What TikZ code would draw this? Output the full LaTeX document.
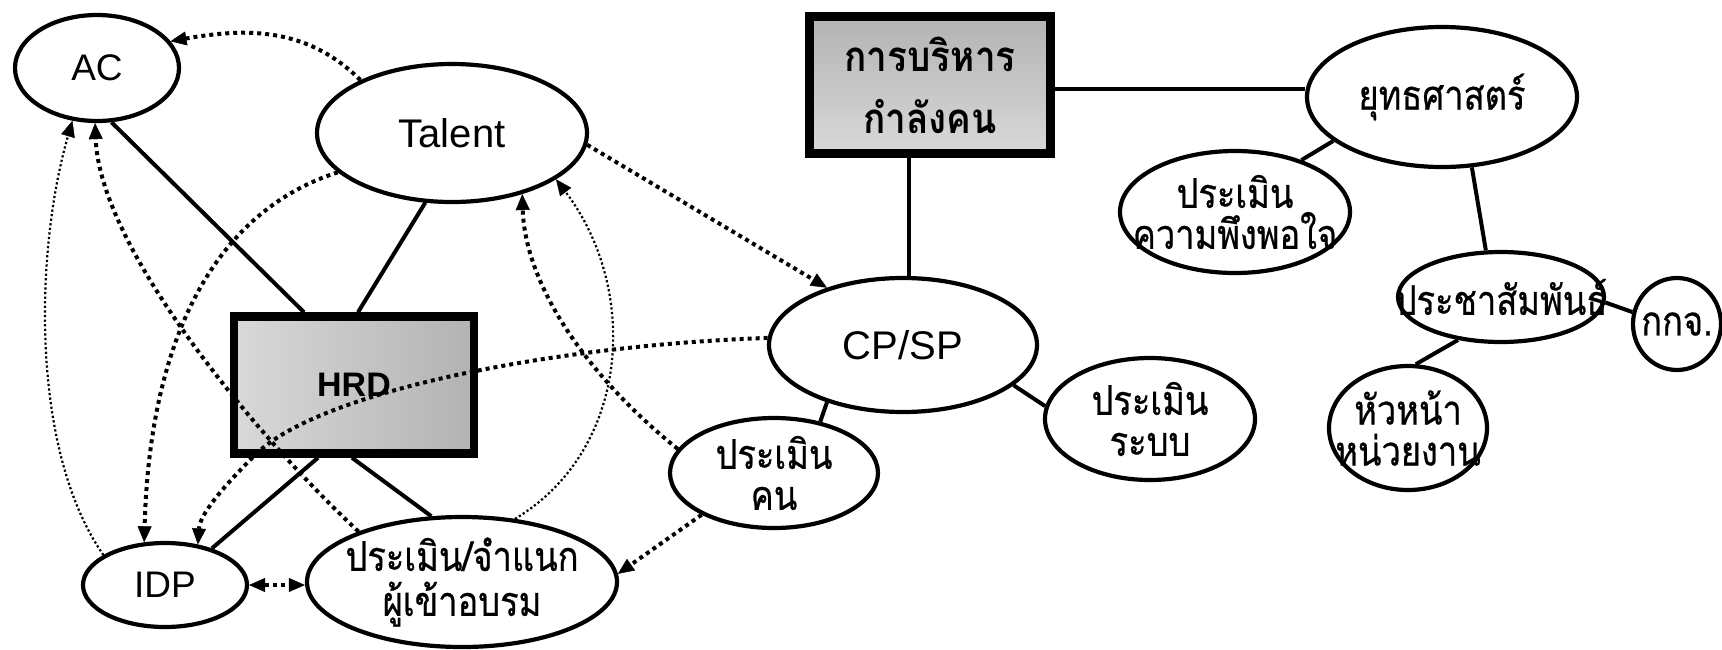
\documentclass[tikz,border=0pt]{standalone}
\usepackage{fontspec}
\setmainfont{Liberation Sans}
\newfontfamily\thaifont[Script=Thai,FakeStretch=0.84,FakeBold=0.6]{Loma}
\newfontfamily\thaiboldfont[Script=Thai,FakeStretch=0.88]{Loma Bold}
\usetikzlibrary{arrows.meta,shapes.geometric}

\begin{document}
\begin{tikzpicture}[x=1pt,y=-1pt,
  >={Triangle[length=16pt,width=14pt,line width=0.5pt]},
  oval/.style={ellipse, draw, line width=4.2pt, inner sep=0pt},
  panel/.style={rectangle, draw, line width=8.5pt, inner sep=0pt},
  txt/.style={font=\fontsize{40}{40}\selectfont, inner sep=0pt, align=center},
  thtxt/.style={font=\thaifont\fontsize{41}{41}\selectfont, inner sep=0pt, align=center},
  link/.style={line width=4pt},
  heavydots/.style={line width=4pt, dash pattern=on 4pt off 4pt},
  finedots/.style={line width=2.2pt, dash pattern=on 2.2pt off 2.4pt},
]
\useasboundingbox (0,0) rectangle (1722,649);

% shaded boxes
\node[panel, left color=gray!30, right color=gray!60, minimum width=240pt, minimum height=137pt,
  label={[txt, font=\bfseries\fontsize{34}{34}\selectfont]center:HRD}] (hrd) at (354,385) {};
\node[panel, top color=gray!60, bottom color=gray!30, minimum width=241pt, minimum height=137pt,
  label={[thtxt, font=\thaiboldfont\fontsize{42}{62}\selectfont]center:{การบริหาร\\กำลังคน}}] (mgmt) at (930,85) {};

% ovals
\node[oval, minimum width=164pt, minimum height=106pt, label={[txt, font=\fontsize{37}{37}\selectfont]center:AC}] (ac) at (97,68) {};
\node[oval, minimum width=270pt, minimum height=138pt, label={[txt]center:Talent}] (talent) at (452,133) {};
\node[oval, minimum width=164pt, minimum height=84pt, label={[txt, font=\fontsize{37}{37}\selectfont]center:IDP}] (idp) at (165,585) {};
\node[oval, minimum width=310pt, minimum height=130pt, label={[thtxt, font=\thaifont\fontsize{41}{45}\selectfont]center:{ประเมิน/จำแนก\\ผู้เข้าอบรม}}] (assess) at (462,582) {};
\node[oval, minimum width=268pt, minimum height=134pt, label={[txt]center:CP/SP}] (cpsp) at (903,345) {};
\node[oval, minimum width=208pt, minimum height=110pt, label={[thtxt]center:{ประเมิน\\คน}}] (pkhon) at (774,473) {};
\node[oval, minimum width=210pt, minimum height=122pt, label={[thtxt]center:{ประเมิน\\ระบบ}}] (psys) at (1150,419) {};
\node[oval, minimum width=270pt, minimum height=140pt, label={[thtxt]center:ยุทธศาสตร์}] (strat) at (1442,97) {};
\node[oval, minimum width=230pt, minimum height=122pt, label={[thtxt]center:{ประเมิน\\ความพึงพอใจ}}] (satis) at (1235,212) {};
\node[oval, minimum width=206pt, minimum height=90pt, label={[thtxt]center:ประชาสัมพันธ์}] (pr) at (1501,297) {};
\node[oval, minimum width=88pt, minimum height=92pt, label={[thtxt]center:กกจ.}] (okj) at (1677,324) {};
\node[oval, minimum width=158pt, minimum height=124pt, label={[thtxt]center:{หัวหน้า\\หน่วยงาน}}] (head) at (1408,428) {};

% solid links
\draw[link] (ac.-75) -- ([xshift=-50pt]hrd.north);
\draw[link] (talent.-111) -- ([xshift=4pt]hrd.north);
\draw[link] ([xshift=-36pt]hrd.south) -- (idp.38);
\draw[link] ([xshift=-2pt]hrd.south) -- (assess.115);
\draw[link] ([xshift=-21pt]mgmt.south) -- ([xshift=-21pt]mgmt.south |- cpsp.north);
\draw[link] ([yshift=-4pt]mgmt.east) -- ([yshift=-4pt]mgmt.east -| strat.west);
\draw[link] (cpsp.-143) -- (pkhon.48);
\draw[link] (cpsp.-20) -- (psys.173);
\draw[link] (strat.-158) -- (satis.38);
\draw[link] (strat.-67) -- (pr.108);
\draw[link] (pr.-3) -- (okj.165);
\draw[link] (pr.-135) -- (head.83);

% dotted arrows
\draw[heavydots,->] (talent.150) to[out=135,in=10] (ac.20);
\draw[heavydots,->] (talent.-161) .. controls (220,210) and (150,330) .. (idp.116);
\draw[heavydots,->] (assess.154) .. controls (260,440) and (100,250) .. (ac.-92);
\draw[finedots,->] (idp.154) .. controls (30,450) and (35,250) .. (ac.-115);
\draw[heavydots,->] (cpsp.177) .. controls (560,345) and (320,390) .. (255,455)
   .. controls (220,490) and (200,515) .. (idp.51);
\draw[heavydots,->] (talent.-5) -- (cpsp.143);
\draw[heavydots,->] (pkhon.166) .. controls (580,370) and (525,280) .. (talent.-41);
\draw[finedots,->] (assess.50) .. controls (630,450) and (640,290) .. (talent.-24);
\draw[heavydots,->] (pkhon.-150) -- (assess.3);
\draw[heavydots,<->] (idp.east) -- (idp.east -| assess.west);
\end{tikzpicture}
\end{document}
